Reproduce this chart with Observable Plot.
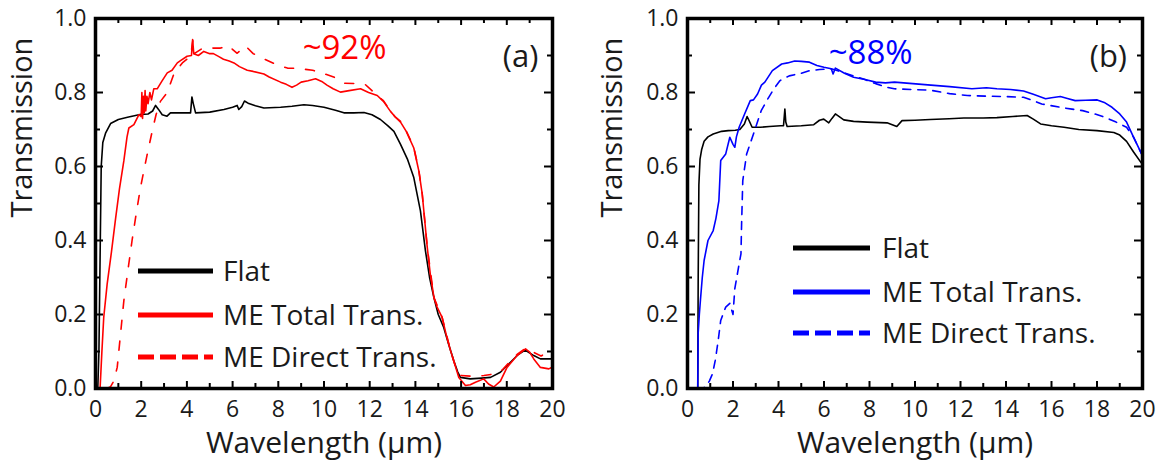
<!DOCTYPE html>
<html><head><meta charset="utf-8">
<script src="https://cdn.jsdelivr.net/npm/d3@7"></script>
<script src="https://cdn.jsdelivr.net/npm/@observablehq/plot@0.6"></script>
<style>
body{margin:0;background:#fff;}
#wrap{position:relative;width:1164px;height:468px;font-family:"Open Sans",sans-serif;}
#wrap > svg{position:absolute;top:0;}
</style></head><body><div id="wrap"></div>
<script>
// ---------- data (wavelength µm, transmission) ----------
const xLabels = [0,2,4,6,8,10,12,14,16,18,20];
const xMinorTicks = [1,3,5,7,9,11,13,15,17,19];
const yLabels = [0,0.2,0.4,0.6,0.8,1.0];
const yMinorTicks = [0.1,0.3,0.5,0.7,0.9];
const legendLabels = ["Flat","ME Total Trans.","ME Direct Trans."];

const aFlat = [[0.1,0],[0.15,0.1],[0.2,0.35],[0.25,0.6],[0.32,0.665],[0.44,0.69],[0.66,0.716],[1.0,0.727],[1.4,0.733],[2.0,0.741],[2.3,0.742],[2.5,0.75],[2.63,0.765],[2.75,0.755],[2.92,0.74],[3.13,0.736],[3.28,0.745],[3.6,0.745],[4.16,0.745],[4.22,0.788],[4.28,0.77],[4.38,0.745],[5.0,0.747],[5.62,0.754],[6.0,0.76],[6.2,0.765],[6.27,0.754],[6.4,0.762],[6.52,0.777],[6.71,0.77],[7.0,0.764],[7.37,0.758],[8.1,0.76],[8.6,0.763],[9.12,0.767],[9.5,0.765],[10.0,0.76],[10.5,0.752],[10.87,0.745],[11.3,0.745],[11.75,0.746],[12.1,0.74],[12.47,0.727],[12.8,0.71],[13.06,0.695],[13.35,0.66],[13.65,0.62],[13.93,0.57],[14.22,0.48],[14.44,0.372],[14.62,0.3],[14.81,0.246],[15.0,0.2],[15.24,0.165],[15.45,0.12],[15.68,0.075],[15.85,0.045],[15.97,0.03],[16.4,0.026],[16.9,0.028],[17.29,0.03],[17.72,0.044],[18.16,0.071],[18.5,0.092],[18.8,0.104],[19.18,0.089],[19.47,0.08],[20,0.08]];
const aTotal = [[0.2,0],[0.28,0.1],[0.36,0.192],[0.51,0.282],[0.7,0.37],[0.88,0.46],[1.05,0.54],[1.24,0.615],[1.38,0.68],[1.46,0.704],[1.68,0.713],[1.9,0.74],[2.0,0.735],[2.03,0.8],[2.06,0.73],[2.1,0.79],[2.13,0.745],[2.17,0.805],[2.2,0.75],[2.25,0.79],[2.3,0.77],[2.38,0.8],[2.45,0.78],[2.55,0.81],[2.7,0.81],[2.9,0.83],[3.14,0.853],[3.35,0.86],[3.58,0.88],[3.72,0.886],[4.01,0.898],[4.2,0.9],[4.25,0.943],[4.3,0.905],[4.5,0.9],[4.74,0.911],[5.0,0.905],[5.16,0.905],[5.4,0.897],[5.6,0.89],[5.85,0.885],[6.06,0.88],[6.3,0.87],[6.64,0.86],[6.9,0.857],[7.37,0.85],[7.6,0.842],[8.1,0.828],[8.35,0.822],[8.6,0.814],[8.8,0.82],[9.0,0.828],[9.3,0.832],[9.63,0.837],[9.9,0.83],[10.13,0.82],[10.4,0.81],[10.72,0.801],[11.1,0.805],[11.6,0.81],[11.95,0.8],[12.33,0.792],[12.6,0.776],[12.91,0.749],[13.1,0.735],[13.35,0.72],[13.6,0.695],[13.93,0.65],[14.15,0.588],[14.3,0.525],[14.52,0.381],[14.65,0.31],[14.81,0.246],[14.95,0.22],[15.17,0.192],[15.35,0.145],[15.54,0.102],[15.75,0.06],[15.9,0.03],[16.19,0.008],[16.4,0.01],[16.63,0.017],[16.99,0.026],[17.2,0.012],[17.43,0.004],[17.72,0.02],[18.01,0.057],[18.45,0.089],[18.82,0.107],[19.0,0.098],[19.18,0.08],[19.47,0.057],[19.84,0.053],[20,0.058]];
const aDirect = [[0.5,0],[0.66,0.005],[0.8,0.02],[0.95,0.057],[1.1,0.15],[1.24,0.237],[1.42,0.32],[1.6,0.4],[1.8,0.48],[1.97,0.543],[2.12,0.59],[2.26,0.632],[2.48,0.695],[2.65,0.74],[2.84,0.776],[3.14,0.8],[3.43,0.85],[3.8,0.88],[4.16,0.898],[4.26,0.94],[4.32,0.905],[4.7,0.92],[5.2,0.92],[5.47,0.92],[5.8,0.927],[6.2,0.906],[6.56,0.926],[6.9,0.905],[7.4,0.89],[7.9,0.876],[8.4,0.866],[8.9,0.865],[9.5,0.86],[9.9,0.853],[10.5,0.84],[10.9,0.825],[11.5,0.824],[11.8,0.822],[12.1,0.805],[12.4,0.788],[12.6,0.778],[12.91,0.75],[13.1,0.735],[13.35,0.722],[13.6,0.696],[13.93,0.652],[14.15,0.59],[14.3,0.525],[14.52,0.381],[14.81,0.246],[15.17,0.192],[15.54,0.102],[15.8,0.05],[16.0,0.035],[16.5,0.033],[17.0,0.035],[17.5,0.04],[17.8,0.05],[18.1,0.07],[18.45,0.092],[18.8,0.108],[19.1,0.1],[19.5,0.088],[19.8,0.098],[20,0.108]];

const bFlat = [[0.45,0],[0.47,0.3],[0.5,0.55],[0.55,0.62],[0.62,0.645],[0.73,0.668],[0.9,0.68],[1.13,0.688],[1.5,0.695],[1.79,0.697],[2.1,0.698],[2.3,0.7],[2.5,0.715],[2.62,0.735],[2.7,0.725],[2.84,0.706],[3.2,0.706],[3.6,0.708],[4.09,0.71],[4.22,0.71],[4.28,0.755],[4.32,0.72],[4.38,0.708],[5.0,0.71],[5.55,0.713],[5.8,0.725],[5.99,0.728],[6.21,0.718],[6.35,0.73],[6.5,0.742],[6.87,0.726],[7.3,0.722],[7.9,0.72],[8.77,0.718],[9.2,0.708],[9.43,0.724],[10.0,0.725],[10.67,0.727],[11.5,0.729],[12.15,0.731],[13.0,0.731],[13.6,0.732],[14.3,0.735],[14.93,0.738],[15.2,0.728],[15.52,0.715],[16.0,0.71],[16.55,0.706],[17.2,0.7],[18.0,0.697],[18.74,0.692],[19.0,0.685],[19.3,0.668],[19.6,0.64],[20,0.605]];
const bTotal = [[0.3,0],[0.45,0],[0.47,0.15],[0.52,0.2],[0.57,0.24],[0.65,0.3],[0.73,0.346],[0.9,0.4],[1.13,0.427],[1.25,0.46],[1.38,0.508],[1.46,0.616],[1.68,0.634],[1.86,0.679],[2.0,0.66],[2.08,0.652],[2.15,0.68],[2.27,0.706],[2.51,0.742],[2.76,0.778],[2.9,0.78],[3.08,0.796],[3.25,0.82],[3.4,0.828],[3.73,0.859],[4.14,0.877],[4.4,0.88],[4.71,0.885],[5.0,0.884],[5.36,0.882],[5.69,0.873],[6.0,0.868],[6.32,0.864],[6.4,0.85],[6.5,0.866],[6.9,0.852],[7.3,0.841],[7.8,0.835],[8.27,0.828],[8.7,0.826],[9.1,0.828],[9.9,0.824],[10.7,0.82],[11.52,0.816],[12.5,0.81],[13.14,0.813],[13.6,0.81],[14.2,0.808],[14.77,0.804],[15.2,0.795],[15.74,0.783],[16.0,0.786],[16.39,0.789],[16.7,0.784],[17.04,0.778],[17.5,0.779],[18.01,0.78],[18.35,0.772],[18.66,0.76],[19.0,0.742],[19.3,0.72],[19.6,0.68],[19.96,0.634]];
const bDirect = [[0.4,0],[0.64,0],[0.8,0.005],[0.96,0.02],[1.1,0.04],[1.22,0.076],[1.35,0.13],[1.46,0.184],[1.68,0.22],[1.86,0.23],[2.0,0.2],[2.08,0.27],[2.27,0.337],[2.35,0.364],[2.38,0.45],[2.43,0.562],[2.6,0.634],[2.9,0.688],[3.24,0.751],[3.57,0.787],[3.8,0.81],[4.06,0.832],[4.47,0.845],[5.0,0.852],[5.36,0.859],[5.8,0.862],[6.32,0.864],[6.8,0.855],[7.3,0.845],[7.8,0.835],[8.27,0.824],[8.7,0.815],[9.09,0.81],[9.9,0.808],[10.7,0.806],[11.52,0.797],[12.3,0.792],[13.14,0.79],[14.0,0.789],[14.77,0.787],[15.2,0.778],[15.57,0.769],[16.39,0.76],[16.9,0.755],[17.37,0.751],[17.9,0.742],[18.35,0.733],[18.84,0.72],[19.3,0.706],[19.6,0.68],[19.96,0.634]];

// ---------- drawing ----------
const W = 582, H = 468, MT = 18, MB = 80;
const FONT = "Open Sans";

function panel(cfg) {
  const innerW = W - cfg.ml - cfg.mr, innerH = H - MT - MB;
  const line = (data, o) => Plot.line(data, {x: d => d[0], y: d => d[1], strokeWidth: 1.6, ...o});
  return Plot.plot({
    width: W, height: H,
    marginLeft: cfg.ml, marginRight: cfg.mr, marginTop: MT, marginBottom: MB,
    x: {domain: [0, 20]},
    y: {domain: [0, 1]},
    style: {fontFamily: FONT, fontSize: "23px", color: "#000", background: "transparent", overflow: "visible"},
    marks: [
      line(cfg.flat, {stroke: "#000"}),
      line(cfg.direct, {stroke: cfg.color, strokeDasharray: cfg.dash}),
      line(cfg.total, {stroke: cfg.color}),
      Plot.tickX(xLabels, {x: d => d, insetTop: innerH - 7, strokeWidth: 2}),
      Plot.tickX(xLabels, {x: d => d, insetBottom: innerH - 7, strokeWidth: 2}),
      Plot.tickX(xMinorTicks, {x: d => d, insetTop: innerH - 5, strokeWidth: 2}),
      Plot.tickX(xMinorTicks, {x: d => d, insetBottom: innerH - 5, strokeWidth: 2}),
      Plot.tickY(yLabels, {y: d => d, insetRight: innerW - 8, strokeWidth: 2}),
      Plot.tickY(yLabels, {y: d => d, insetLeft: innerW - 8, strokeWidth: 2}),
      Plot.tickY(yMinorTicks, {y: d => d, insetRight: innerW - 5, strokeWidth: 2}),
      Plot.tickY(yMinorTicks, {y: d => d, insetLeft: innerW - 5, strokeWidth: 2}),
      Plot.frame({stroke: "#000", strokeWidth: 3.5}),
      Plot.axisX(xLabels, {tickSize: 0, tickPadding: 12, tickFormat: d => String(d), label: null, fill: "#1a1a1a"}),
      Plot.axisY(yLabels, {tickSize: 0, tickPadding: 9, tickFormat: d => d.toFixed(1), label: null, fill: "#1a1a1a"}),
      Plot.text(["Wavelength (μm)"], {text: d => d, frameAnchor: "bottom", dy: 64, fontSize: 30, fill: "#1a1a1a"}),
      Plot.text(["Transmission"], {text: d => d, frameAnchor: "left", dx: cfg.titleDx, dy: 14, rotate: -90, fontSize: 29, fill: "#1a1a1a"}),
      Plot.text([cfg.note], {text: d => d, x: cfg.noteX, y: cfg.noteY, fill: cfg.color, fontSize: 33}),
      Plot.text([cfg.tag], {text: d => d, x: cfg.tagX, y: cfg.tagY, fill: "#1a1a1a", fontSize: 31})
    ]
  });
}

const wrap = document.getElementById("wrap");
const left = panel({flat: aFlat, total: aTotal, direct: aDirect, color: "#ff0000", dash: "9,12", ml: 95, mr: 30, titleDx: -73,
  note: "~92%", noteX: 10.9, noteY: 0.92, tag: "(a)", tagX: 18.6, tagY: 0.895});
left.style.left = "0px";
const right = panel({flat: bFlat, total: bTotal, direct: bDirect, color: "#0000ff", dash: "8,7", ml: 105, mr: 22, titleDx: -75,
  note: "~88%", noteX: 8.05, noteY: 0.905, tag: "(b)", tagX: 18.5, tagY: 0.895});
right.style.left = "582px";
wrap.appendChild(left);
wrap.appendChild(right);

// ---------- legends ----------
const legends = [
  {x0: 138, x1: 213, tx: 223, ys: [271, 315, 357], color: "#ff0000"},
  {x0: 793, x1: 870, tx: 882, ys: [248, 292, 333], color: "#0000ff"}
];
const svg = d3.select(wrap).append("svg").attr("width", 1164).attr("height", 468)
  .style("position", "absolute").style("left", "0px").style("top", "0px").style("pointer-events", "none");
legends.forEach(L => {
  legendLabels.forEach((lab, i) => {
    svg.append("line").attr("x1", L.x0).attr("x2", L.x1).attr("y1", L.ys[i]).attr("y2", L.ys[i])
      .attr("stroke", i === 0 ? "#000" : L.color).attr("stroke-width", 5)
      .attr("stroke-dasharray", i === 2 ? "16,6" : null);
    svg.append("text").attr("x", L.tx).attr("y", L.ys[i] + 10)
      .attr("font-family", FONT).attr("font-size", 28).attr("fill", "#1a1a1a").text(lab);
  });
});
</script>
</body></html>
